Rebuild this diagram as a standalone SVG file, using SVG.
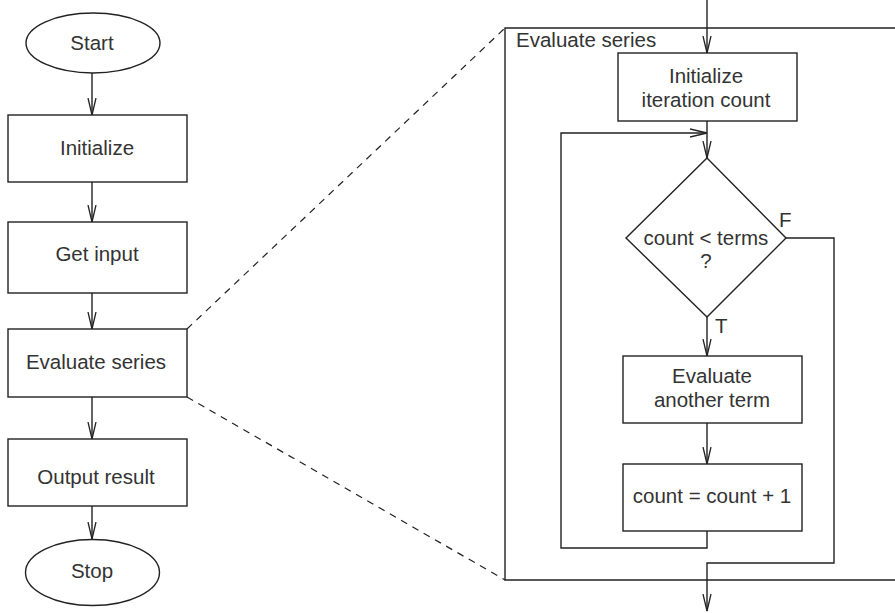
<svg xmlns="http://www.w3.org/2000/svg" width="895" height="613" viewBox="0 0 895 613">
<style>
.s{fill:#fff;stroke:#222;stroke-width:1.4}
.l{fill:none;stroke:#222;stroke-width:1.4}
.d{fill:none;stroke:#222;stroke-width:1.2;stroke-dasharray:7 6}
.t{font-family:"Liberation Sans",Arial,sans-serif;font-size:20.5px;fill:#333;text-anchor:middle}
.tl{font-family:"Liberation Sans",Arial,sans-serif;font-size:20.5px;fill:#333}
</style>
<defs>
<marker id="a" markerWidth="20" markerHeight="12" refX="17" refY="5" orient="auto" markerUnits="userSpaceOnUse" viewBox="0 0 20 12">
<path d="M0,1 L17,5 L0,9" fill="none" stroke="#222" stroke-width="1.3"/>
</marker>
</defs>
<rect width="895" height="613" fill="#fff"/>

<g id="connectors">
<line class="l" x1="92" y1="73" x2="92" y2="115" marker-end="url(#a)"/>
<line class="l" x1="92" y1="182" x2="92" y2="222" marker-end="url(#a)"/>
<line class="l" x1="92" y1="293" x2="92" y2="329" marker-end="url(#a)"/>
<line class="l" x1="92" y1="397" x2="92" y2="439" marker-end="url(#a)"/>
<line class="l" x1="92" y1="506" x2="92" y2="539" marker-end="url(#a)"/>
<line class="d" x1="187" y1="329" x2="505" y2="28"/>
<line class="d" x1="187" y1="397" x2="505" y2="580"/>
<line class="l" x1="707" y1="0" x2="707" y2="53" marker-end="url(#a)"/>
<line class="l" x1="707" y1="121" x2="707" y2="158" marker-end="url(#a)"/>
<polyline class="l" points="707,531 707,548 561,548 561,133 707,133" marker-end="url(#a)"/>
<line class="l" x1="707" y1="317" x2="707" y2="356" marker-end="url(#a)"/>
<line class="l" x1="707" y1="423" x2="707" y2="464" marker-end="url(#a)"/>
<polyline class="l" points="786,238 834,238 834,563 707,563 707,611" marker-end="url(#a)"/>
</g>

<g id="frame">
<polyline class="l" points="896,28 505,28 505,580 896,580"/>
<text class="tl" x="516" y="47">Evaluate series</text>
</g>

<g id="start">
<ellipse class="s" cx="93" cy="43" rx="67" ry="30"/>
<text class="t" x="92" y="50">Start</text>
</g>
<g id="initialize">
<rect class="s" x="8" y="115" width="179" height="67"/>
<text class="t" x="97" y="155">Initialize</text>
</g>
<g id="get-input">
<rect class="s" x="8" y="222" width="179" height="71"/>
<text class="t" x="97" y="261">Get input</text>
</g>
<g id="evaluate-series">
<rect class="s" x="8" y="329" width="179" height="68"/>
<text class="t" x="96" y="369">Evaluate series</text>
</g>
<g id="output-result">
<rect class="s" x="8" y="439" width="179" height="67"/>
<text class="t" x="96" y="484">Output result</text>
</g>
<g id="stop">
<ellipse class="s" cx="92.5" cy="572.5" rx="67" ry="33"/>
<text class="t" x="92" y="578">Stop</text>
</g>

<g id="init-count">
<rect class="s" x="618" y="53" width="179" height="68"/>
<text class="t" x="706" y="83">Initialize</text>
<text class="t" x="706" y="107">iteration count</text>
</g>
<g id="decision">
<polygon class="s" points="707,158 786,238 707,317 626,238"/>
<text class="t" x="706" y="245">count &lt; terms</text>
<text class="t" x="706" y="268">?</text>
<text class="tl" x="779" y="227">F</text>
<text class="tl" x="715" y="333">T</text>
</g>
<g id="evaluate-term">
<rect class="s" x="623" y="356" width="179" height="67"/>
<text class="t" x="712" y="383">Evaluate</text>
<text class="t" x="712" y="407">another term</text>
</g>
<g id="increment">
<rect class="s" x="623" y="464" width="179" height="67"/>
<text class="t" x="712" y="503">count = count + 1</text>
</g>
</svg>
